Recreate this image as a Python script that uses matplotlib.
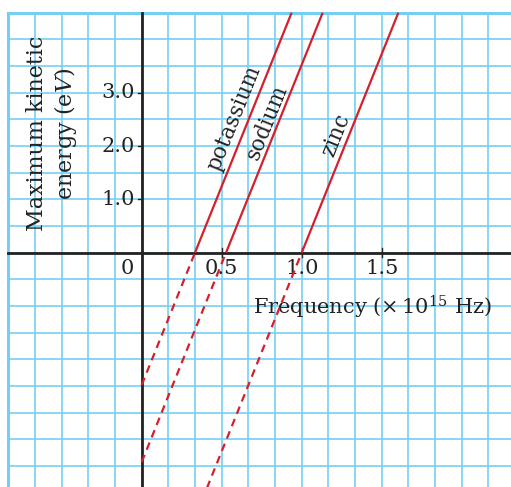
import numpy as np
import matplotlib
matplotlib.use("Agg")
import matplotlib.pyplot as plt

# threshold frequencies (x 10^15 Hz) read where each line meets the axis
metals = ["potassium", "sodium", "zinc"]
f0 = [0.333, 0.527, 1.0]
slope = 7.45          # eV per 10^15 Hz, as drawn
xticks = [0.5, 1.0, 1.5]
xtick_labels = ["0.5", "1.0", "1.5"]
yticks = [1.0, 2.0, 3.0]
ytick_labels = ["1.0", "2.0", "3.0"]
label_pos = [(0.58, 2.53), (0.785, 2.45), (1.215, 2.21)]   # text centres (data)

GRID = "#76cff1"
RED = "#d4202c"
INK = "#222222"

plt.rcParams["mathtext.fontset"] = "dejavuserif"
fig = plt.figure(figsize=(5.11, 4.87), dpi=100)
ax = fig.add_axes([0, 0, 1, 1])
# pixel mapping: 160 px per 1e15 Hz, 53.33 px per eV, origin at (141.7, 252.7)
ax.set_xlim(-141.7 / 160, (511 - 141.7) / 160)
ax.set_ylim(-(487 - 252.7) / 53.33, 252.7 / 53.33)
ax.axis("off")

xl, xr = -0.8333, 2.4
yb, yt = -4.6, 4.5
for gx in np.arange(-5, 15) / 6:
    if gx < xl - 1e-6:
        continue
    ax.plot([gx, gx], [yb, yt], color=GRID, lw=1.2, zorder=1)
for gy in np.arange(-10, 10) * 0.5:
    if gy > yt + 1e-6:
        continue
    ax.plot([xl, xr], [gy, gy], color=GRID, lw=1.2, zorder=1)
# thicker frame at left and top
ax.plot([xl, xl], [yb, yt], color=GRID, lw=2.2, zorder=1)
ax.plot([xl, xr], [yt, yt], color=GRID, lw=2.2, zorder=1)

# axes
ax.plot([xl, xr], [0, 0], color=INK, lw=2.0, zorder=3)
ax.plot([0, 0], [yb, yt], color=INK, lw=2.0, zorder=3)
for x in xticks:
    ax.plot([x, x], [-0.08, 0.08], color=INK, lw=1.0, zorder=3)
for y in yticks:
    ax.plot([-0.025, 0], [y, y], color=INK, lw=1.0, zorder=3)

fnt = dict(family="DejaVu Serif", color=INK)
for x, s in zip(xticks, xtick_labels):
    ax.text(x, -0.3, s, ha="center", va="center", fontsize=15, **fnt)
ax.text(-0.09, -0.3, "0", ha="center", va="center", fontsize=15, **fnt)
for y, s in zip(yticks, ytick_labels):
    ax.text(-0.04, y, s, ha="right", va="center", fontsize=15, **fnt)

ax.text(0.697, -1.02, "Frequency ($\\times\\,10^{15}$ Hz)", ha="left", va="center",
        fontsize=15, **fnt)
ax.text(-0.56, 2.23, "Maximum kinetic\nenergy (e$V$)", ha="center", va="center",
        rotation=90, linespacing=1.2, fontsize=16, **fnt)

# lines: solid above threshold, dashed below (from the y axis)
for name, f, (tx, ty) in zip(metals, f0, label_pos):
    x_top = f + yt / slope
    ax.plot([f, x_top], [0, yt], color=RED, lw=1.6, zorder=4, solid_capstyle="butt")
    ax.plot([0, f], [-slope * f, 0], color=RED, lw=1.6, zorder=4,
            dashes=(3.5, 2.5))
    ax.text(tx, ty, name, ha="center", va="center", rotation=68,
            rotation_mode="anchor", fontsize=15.5, **fnt)

fig.savefig("out.png", dpi=100)
